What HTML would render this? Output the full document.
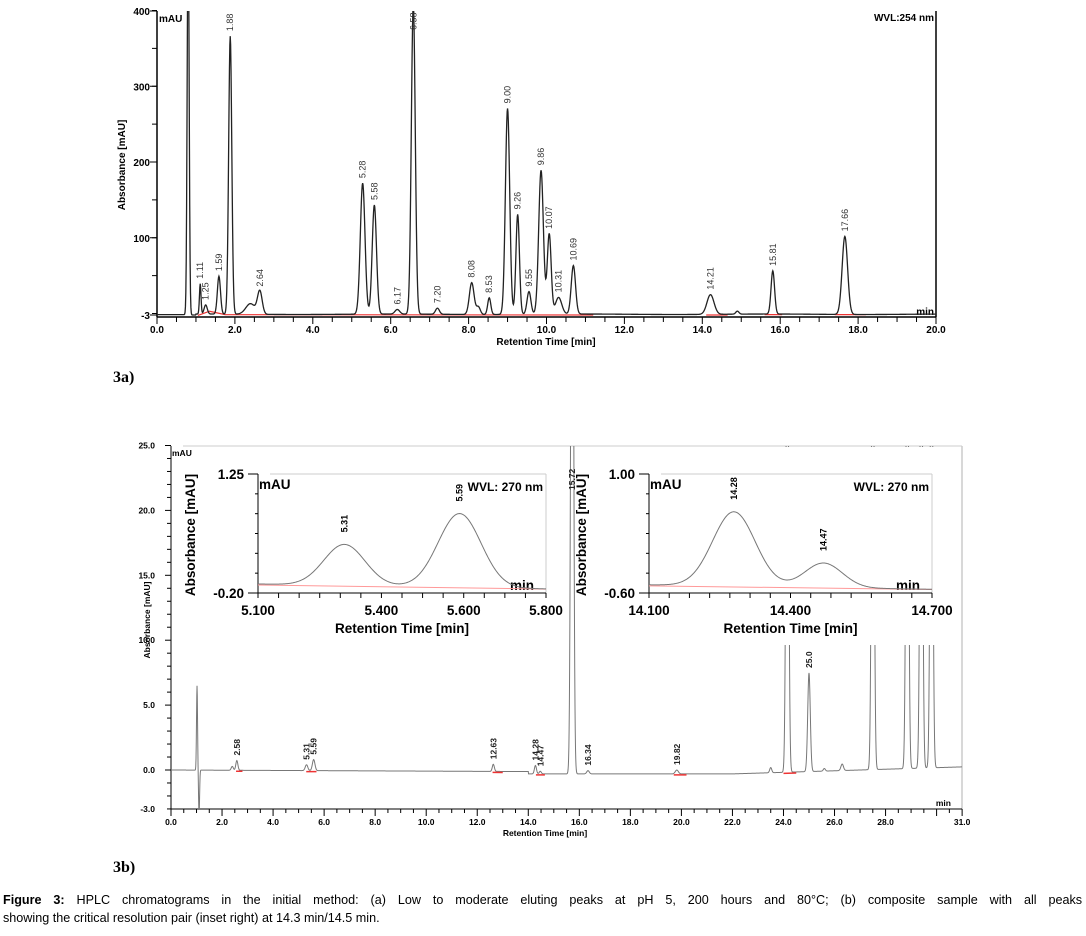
<!DOCTYPE html>
<html><head><meta charset="utf-8"><style>
body{margin:0;background:#fff;width:1086px;height:931px;overflow:hidden;font-family:"Liberation Sans",Arial,sans-serif}
svg text{font-family:"Liberation Sans",Arial,sans-serif}
</style></head><body>
<svg id="fig" width="1086" height="931" viewBox="0 0 1086 931" xmlns="http://www.w3.org/2000/svg">
<defs>
<clipPath id="cA"><rect x="157" y="11" width="779" height="306"/></clipPath>
<clipPath id="cB"><rect x="171" y="446" width="791" height="363"/></clipPath>
<clipPath id="cI1"><rect x="258" y="474" width="288" height="119"/></clipPath>
<clipPath id="cI2"><rect x="649" y="474" width="283" height="119"/></clipPath>
</defs>
<g id="A"></g>
<g id="B"></g>
<text x="113" y="382" font-weight="bold" font-size="16" style="font-family:'Liberation Serif',serif">3a)</text>
<text x="113" y="872" font-weight="bold" font-size="16" style="font-family:'Liberation Serif',serif">3b)</text>
<text id="cap1" x="3" y="904" font-size="12.6"><tspan font-weight="bold">Figure 3:</tspan> HPLC chromatograms in the initial method: (a) Low to moderate eluting peaks at pH 5, 200 hours and 80°C; (b) composite sample with all peaks</text>
<text x="3" y="922" font-size="12.6">showing the critical resolution pair (inset right) at 14.3 min/14.5 min.</text>
</svg>
<script>
// ---- Chart 3a data (254 nm) ----
const aTimes   = [0.80, 1.11, 1.25, 1.59, 1.88, 2.40, 2.64, 5.28, 5.58, 6.17, 6.58, 7.20, 8.08, 8.25, 8.53, 9.00, 9.26, 9.55, 9.86, 10.07, 10.31, 10.69, 14.21, 14.90, 15.81, 17.66];
const aHeights = [520, 40, 12, 50, 367, 14, 30, 173, 144, 6, 410, 8, 42, 10, 22, 272, 132, 30, 190, 106, 22, 64, 26, 4, 57, 103];
const aWidths  = [0.025,0.02,0.04,0.04,0.04,0.12,0.06,0.06,0.055,0.06,0.05,0.05,0.06,0.05,0.04,0.055,0.045,0.05,0.06,0.05,0.08,0.055,0.09,0.04,0.045,0.07];
const aLabels  = ["","1.11","1.25","1.59","1.88","","2.64","5.28","5.58","6.17","6.58","7.20","8.08","","8.53","9.00","9.26","9.55","9.86","10.07","10.31","10.69","14.21","","15.81","17.66"];
const aYTicks  = [400,300,200,100,-3];
const aXTicks  = [0,2,4,6,8,10,12,14,16,18,20];
// ---- Chart 3b data (270 nm) ----
const bTimes   = [2.40, 2.58, 5.31, 5.59, 12.63, 14.28, 14.47, 15.72, 16.34, 19.82, 23.50, 24.15, 25.00, 25.60, 26.30, 27.50, 28.85, 29.40, 29.80];
const bHeights = [0.3, 0.75, 0.45, 0.85, 0.55, 0.65, 0.2, 60, 0.25, 0.3, 0.4, 40, 7.6, 0.2, 0.5, 40, 40, 40, 40];
const bWidths  = [0.04,0.04,0.05,0.05,0.04,0.04,0.04,0.05,0.05,0.06,0.04,0.05,0.05,0.04,0.05,0.05,0.05,0.05,0.05];
const bLabels  = ["","2.58","5.31","5.59","12.63","14.28","14.47","15.72","16.34","19.82","","","25.0","","","","","",""];
const bYTicks  = [25,20,15,10,5,0,-3];
const bXTicks  = [0,2,4,6,8,10,12,14,16,18,20,22,24,26,28,31];
// ---- Insets ----
const i1Times=[5.31,5.59], i1Heights=[0.50,0.90], i1Widths=[0.05,0.052], i1Labels=["5.31","5.59"];
const i2Times=[14.28,14.47], i2Heights=[1.00,0.33], i2Widths=[0.045,0.04], i2Labels=["14.28","14.47"];

const NS="http://www.w3.org/2000/svg";
function mk(parent,tag,attrs,txt){const e=document.createElementNS(NS,tag);for(const k in attrs)e.setAttribute(k,attrs[k]);if(txt!==undefined)e.textContent=txt;parent.appendChild(e);return e;}
function sig(t,times,hs,ws,base){let v=base(t);for(let i=0;i<times.length;i++){const d=(t-times[i])/ws[i];if(Math.abs(d)<8)v+=hs[i]*Math.exp(-0.5*d*d);}return v;}
function pathFor(x0,x1,step,f,X,Y){let d="";for(let t=x0;t<=x1+1e-9;t+=step){d+=(d?"L":"M")+X(t).toFixed(2)+","+Y(f(t)).toFixed(2);}return d;}

// ===== Chart A =====
(function(){
 const g=document.getElementById('A');
 const X=t=>157+t*38.95, Y=v=>313.5-v*0.7575;
 const base=t=>t<0.75?-1.5:(t<1.0?-2:-1+0.3*Math.sin(t*1.3));
 mk(g,'line',{x1:157,y1:11,x2:157,y2:317,stroke:'#000','stroke-width':1.5});
 mk(g,'line',{x1:157,y1:317,x2:936,y2:317,stroke:'#000','stroke-width':1.5});
 mk(g,'line',{x1:936,y1:11,x2:936,y2:317,stroke:'#000','stroke-width':1.5});
 [0,50,100,150,200,250,300,350,400].forEach(v=>mk(g,'line',{x1:152,y1:Y(v),x2:157,y2:Y(v),stroke:'#000'}));
 aYTicks.forEach(v=>{const y=v===-3?315:(v===400?11:Y(v));mk(g,'line',{x1:150,y1:y,x2:157,y2:y,stroke:'#000'});
  const t=mk(g,'text',{x:150,y:y+4,'font-size':10,'font-weight':'bold','text-anchor':'end'},String(v));});
 for(let t=0;t<=20;t+=0.5)mk(g,'line',{x1:X(t),y1:317,x2:X(t),y2:t%2===0?324:322,stroke:'#000'});
 aXTicks.forEach(t=>{const e=mk(g,'text',{x:X(t),y:333,'font-size':10,'font-weight':'bold','text-anchor':'middle'},t.toFixed(1));});
 let e=mk(g,'text',{x:546,y:345,'font-size':10,'font-weight':'bold','text-anchor':'middle'},'Retention Time [min]');
 e=mk(g,'text',{x:0,y:0,'font-size':10,'font-weight':'bold','text-anchor':'middle',transform:'translate(125,165) rotate(-90)'},'Absorbance [mAU]');
 e=mk(g,'text',{x:159,y:22,'font-size':10,'font-weight':'bold'},'mAU');
 e=mk(g,'text',{x:934,y:21,'font-size':10,'font-weight':'bold','text-anchor':'end'},'WVL:254 nm');
 e=mk(g,'text',{x:934,y:315,'font-size':10,'font-weight':'bold','text-anchor':'end'},'min');
 mk(g,'path',{d:`M${X(1.05)},${Y(-2.5)}L${X(1.35)},${Y(3)}L${X(1.75)},${Y(-1.5)}L${X(11.2)},${Y(-2)}M${X(14.1)},${Y(-2)}L${X(14.65)},${Y(-2)}M${X(15.6)},${Y(-1.5)}L${X(16.05)},${Y(-1.5)}M${X(17.4)},${Y(-1.5)}L${X(18.2)},${Y(-1.5)}`,stroke:'#e33',fill:'none','stroke-width':1.2});
 const p=mk(g,'path',{d:pathFor(0,20,0.01,t=>sig(t,aTimes,aHeights,aWidths,base),X,Y),fill:'none',stroke:'#222','stroke-width':1.3,'clip-path':'url(#cA)'});
 
 
 aTimes.forEach((t,i)=>{if(!aLabels[i])return;const top=Math.max(Y(aHeights[i]+(base(t))),14);const yy=Math.max(top-5,30);
  const l=mk(g,'text',{x:0,y:0,'font-size':9,fill:'#333',transform:`translate(${X(t)+3},${yy}) rotate(-90)`},aLabels[i]);
  
  });
})();

// ===== Chart B =====
(function(){
 const g=document.getElementById('B');
 const X=t=>171+t*25.52, Y=v=>770-v*12.98;
 const base=t=>t<14?-0.1*t/14*1.2:(t<22?-0.12-0.18:-0.3+(t-22)*0.06);
 mk(g,'line',{x1:183,y1:446,x2:962,y2:446,stroke:'#ccc'});
 mk(g,'line',{x1:962,y1:446,x2:962,y2:809,stroke:'#ccc','stroke-width':1.5});
 mk(g,'line',{x1:171,y1:446,x2:171,y2:809,stroke:'#000'});
 mk(g,'line',{x1:171,y1:809,x2:962,y2:809,stroke:'#000'});
 for(let v=-3;v<=25;v++)mk(g,'line',{x1:v%5===0?165:167,y1:Y(v),x2:171,y2:Y(v),stroke:'#000'});
 bYTicks.forEach(v=>{const e=mk(g,'text',{x:155,y:Y(v)+3,'font-size':8.5,'font-weight':'bold','text-anchor':'end'},v.toFixed(1));});
 for(let t=0;t<=31;t+=0.5)mk(g,'line',{x1:X(t),y1:809,x2:X(t),y2:t%2===0||t===31?816:813,stroke:'#000'});
 bXTicks.forEach(t=>{const e=mk(g,'text',{x:X(t),y:825,'font-size':8.5,'font-weight':'bold','text-anchor':'middle'},t.toFixed(1));});
 let e=mk(g,'text',{x:545,y:836,'font-size':8.5,'font-weight':'bold','text-anchor':'middle'},'Retention Time [min]');
 e=mk(g,'text',{x:0,y:0,'font-size':8.5,'font-weight':'bold','text-anchor':'middle',transform:'translate(150,620) rotate(-90)'},'Absorbance [mAU]');
 e=mk(g,'text',{x:951,y:806,'font-size':8.5,'font-weight':'bold','text-anchor':'end'},'min');
 const f=t=>{let v=sig(t,bTimes,bHeights,bWidths,base);const d=(t-1.02)/0.02;v+=6.5*Math.exp(-0.5*d*d);const d2=(t-1.1)/0.02;v-=3.5*Math.exp(-0.5*d2*d2);return v;};
 const p=mk(g,'path',{d:pathFor(0,31,0.01,f,X,Y),fill:'none',stroke:'#777','stroke-width':1,'clip-path':'url(#cB)'});
 
 
 [[2.55,2.8],[5.3,5.7],[12.6,13.0],[14.3,14.65],[19.7,20.2],[24.0,24.5]].forEach(r=>mk(g,'line',{x1:X(r[0]),y1:Y(base(r[0]))+1,x2:X(r[1]),y2:Y(base(r[1]))+1,stroke:'#e33','stroke-width':1.5}));
 bTimes.forEach((t,i)=>{if(!bLabels[i])return;let yy=Y(Math.min(bHeights[i],25)+base(t))-5;if(bHeights[i]>25)yy=490;if(bLabels[i]==='25.0')yy=668;
  const l=mk(g,'text',{x:0,y:0,'font-size':8.5,'font-weight':'bold',fill:'#222',transform:`translate(${X(t)+3},${yy}) rotate(-90)`},bLabels[i]);
  
  });
 mk(g,'rect',{x:178,y:447,width:388,height:198,fill:'#fff'});
 mk(g,'rect',{x:576,y:447,width:385,height:198,fill:'#fff'});
 e=mk(g,'text',{x:172,y:456,'font-size':8.5,'font-weight':'bold'},'mAU');
 inset(g,258,546,5.1,5.8,1.25,-0.2,i1Times,i1Heights,i1Widths,i1Labels,['5.100','5.400','5.600','5.800'],[5.1,5.4,5.6,5.8],-0.09,'cI1','inset-left',[1.25,-0.20],186);
 inset(g,649,932,14.1,14.7,1.0,-0.6,i2Times,i2Heights,i2Widths,i2Labels,['14.100','14.400','14.700'],[14.1,14.4,14.7],-0.49,'cI2','inset-right',[1.00,-0.60],577);
})();

function inset(g0,x0,x1,t0,t1,vmax,vmin,times,hs,ws,labels,tl,tv,b,clip,name,yl,axx){
 const g=mk(g0,'g',{});
 
 
 const X=t=>x0+(t-t0)/(t1-t0)*(x1-x0), Y=v=>593-(v-vmin)/(vmax-vmin)*119;
 mk(g,'line',{x1:x0+12,y1:474,x2:x1,y2:474,stroke:'#ccc'});
 mk(g,'line',{x1:x1,y1:474,x2:x1,y2:593,stroke:'#ccc'});
 mk(g,'line',{x1:x0,y1:474,x2:x0,y2:593,stroke:'#000'});
 mk(g,'line',{x1:x0,y1:593,x2:x1,y2:593,stroke:'#000'});
 for(let k=0;k<=6;k++){const y=474+k*119/6;mk(g,'line',{x1:k===0||k===6?x0-10:x0-3,y1:y,x2:x0,y2:y,stroke:'#000'});}
 for(let t=t0;t<=t1+1e-6;t+=(t1-t0)/14){mk(g,'line',{x1:X(t),y1:593,x2:X(t),y2:598,stroke:'#000'});}
 yl.forEach((v,k)=>{const e=mk(g,'text',{x:x0-14,y:(k===0?474:593)+5,'font-size':13.5,'font-weight':'bold','text-anchor':'end'},v.toFixed(2));});
 tl.forEach((s,k)=>{const e=mk(g,'text',{x:X(tv[k]),y:615,'font-size':13.5,'font-weight':'bold','text-anchor':'middle'},s);});
 let e=mk(g,'text',{x:(x0+x1)/2,y:633,'font-size':13.5,'font-weight':'bold','text-anchor':'middle'},'Retention Time [min]');
 e=mk(g,'text',{x:0,y:0,'font-size':13.5,'font-weight':'bold','text-anchor':'middle',transform:`translate(${axx+9},535) rotate(-90)`},'Absorbance [mAU]');
 e=mk(g,'text',{x:x0+1,y:489,'font-size':13.5,'font-weight':'bold'},'mAU');
 e=mk(g,'text',{x:x1-3,y:491,'font-size':12,'font-weight':'bold','text-anchor':'end'},'WVL: 270 nm');
 e=mk(g,'text',{x:x1-12,y:590,'font-size':13.5,'font-weight':'bold','text-anchor':'end'},'min');
 mk(g,'line',{x1:x0,y1:Y(b)+1,x2:x1,y2:Y(b-0.05)+1,stroke:'#f99'});
 const base=t=>b-0.06*(t-t0)/(t1-t0);
 const p=mk(g,'path',{d:pathFor(t0,t1,(t1-t0)/400,t=>sig(t,times,hs,ws,base),X,Y),fill:'none',stroke:'#777','stroke-width':1,'clip-path':`url(#${clip})`});
 
 
 times.forEach((t,i)=>{const yy=Y(hs[i]+base(t))-12;
  const l=mk(g,'text',{x:0,y:0,'font-size':9,'font-weight':'bold',transform:`translate(${X(t)+3},${yy}) rotate(-90)`},labels[i]);
  
  });
}
// justify caption line 1 via word spacing
(function(){const c=document.getElementById('cap1');const len=c.getComputedTextLength();const spaces=(c.textContent.match(/ /g)||[]).length;const ws=(1079-len)/spaces;if(ws>0)c.setAttribute('word-spacing',ws.toFixed(2));})();
</script>
</body></html>
